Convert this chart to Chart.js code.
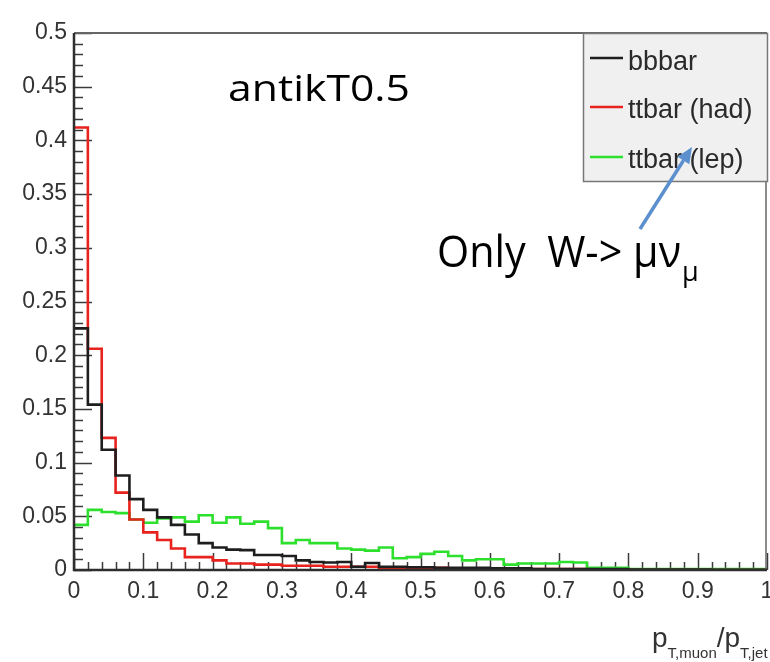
<!DOCTYPE html>
<html>
<head>
<meta charset="utf-8">
<script src="https://cdn.jsdelivr.net/npm/chart.js@4.4.1/dist/chart.umd.min.js"></script>
<style>
  html, body { margin: 0; padding: 0; background: #ffffff; }
  canvas { display: block; }
</style>
</head>
<body>
<canvas id="c" width="770" height="662"></canvas>
<script>
// ---- data ----
const binLow = [
  0.00, 0.02, 0.04, 0.06, 0.08, 0.10, 0.12, 0.14, 0.16, 0.18,
  0.20, 0.22, 0.24, 0.26, 0.28, 0.30, 0.32, 0.34, 0.36, 0.38,
  0.40, 0.42, 0.44, 0.46, 0.48, 0.50, 0.52, 0.54, 0.56, 0.58,
  0.60, 0.62, 0.64, 0.66, 0.68, 0.70, 0.72, 0.74, 0.76, 0.78,
  0.80, 0.82, 0.84, 0.86, 0.88, 0.90, 0.92, 0.94, 0.96, 0.98
];
const xUpperEdge = 1.0;

const bbbar = [
  0.225, 0.154, 0.112, 0.088, 0.066, 0.056, 0.049, 0.042, 0.033, 0.025,
  0.021, 0.019, 0.0185, 0.014, 0.014, 0.013, 0.009, 0.0075, 0.007, 0.0075,
  0.003, 0.0065, 0.003, 0.003, 0.0025, 0.0025, 0.002, 0.002, 0.002, 0.002,
  0.0015, 0.0015, 0.0015, 0.001, 0.001, 0.001, 0.001, 0.001, 0.0008, 0.0008,
  0.0005, 0.0005, 0.0005, 0.0005, 0.0004, 0.0004, 0.0003, 0.0003, 0.0003, 0.0003
];
const ttbarHad = [
  0.412, 0.206, 0.123, 0.072, 0.047, 0.035, 0.028, 0.020, 0.012, 0.012,
  0.009, 0.006, 0.006, 0.005, 0.005, 0.004, 0.004, 0.004, 0.003, 0.003,
  0.003, 0.003, 0.002, 0.002, 0.002, 0.002, 0.002, 0.0015, 0.0015, 0.0015,
  0.001, 0.001, 0.001, 0.001, 0.001, 0.001, 0.001, 0, 0, 0,
  0, 0, 0, 0, 0, 0, 0, 0, 0, 0
];
const ttbarLep = [
  0.042, 0.056, 0.054, 0.053, 0.047, 0.044, 0.048, 0.049, 0.045, 0.051,
  0.044, 0.049, 0.043, 0.045, 0.039, 0.025, 0.028, 0.025, 0.025, 0.020,
  0.019, 0.018, 0.021, 0.011, 0.012, 0.015, 0.017, 0.013, 0.009, 0.010,
  0.010, 0.005, 0.006, 0.006, 0.006, 0.0075, 0.007, 0.002, 0.002, 0.002,
  0.001, 0.001, 0.001, 0.001, 0.001, 0.001, 0.001, 0.001, 0.001, 0.001
];
const seriesLabels = ['bbbar', 'ttbar (had)', 'ttbar (lep)'];
const seriesColors = ['#1e1e1e', '#e8221c', '#2ee02e'];

const xTickValues = [0, 0.1, 0.2, 0.3, 0.4, 0.5, 0.6, 0.7, 0.8, 0.9, 1];
const xTickLabels = ['0', '0.1', '0.2', '0.3', '0.4', '0.5', '0.6', '0.7', '0.8', '0.9', '1'];
const yTickValues = [0, 0.05, 0.1, 0.15, 0.2, 0.25, 0.3, 0.35, 0.4, 0.45, 0.5];
const yTickLabels = ['0', '0.05', '0.1', '0.15', '0.2', '0.25', '0.3', '0.35', '0.4', '0.45', '0.5'];
const xMinorStep = 0.02;
const yMinorStep = 0.01;

// ---- helpers ----
function histPoints(values) {
  const pts = binLow.map((x, i) => ({ x: x, y: values[i] }));
  pts.push({ x: xUpperEdge, y: values[values.length - 1] });
  return pts;
}

const datasets = [bbbar, ttbarHad, ttbarLep].map((vals, i) => ({
  label: seriesLabels[i],
  data: histPoints(vals),
  borderColor: seriesColors[i],
  backgroundColor: seriesColors[i],
  borderWidth: 2.6,
  stepped: 'before',
  pointRadius: 0,
  fill: false
}));

function fitText(ctx, text, x, y, width) {
  const w = ctx.measureText(text).width;
  ctx.save();
  ctx.translate(x, y);
  ctx.scale(width / w, 1);
  ctx.fillText(text, 0, 0);
  ctx.restore();
}

const rootDecor = {
  id: 'rootDecor',
  beforeDatasetsDraw(chart) {
    const ctx = chart.ctx;
    const xs = chart.scales.x, ys = chart.scales.y;
    const a = chart.chartArea;
    ctx.save();
    ctx.strokeStyle = '#3a3a3a';
    ctx.lineWidth = 1.5;
    for (let k = 0; k <= 50; k++) {
      const v = k * yMinorStep;
      const py = Math.round(ys.getPixelForValue(v)) + 0.5;
      const len = (k % 5 === 0) ? 18 : 9;
      ctx.beginPath();
      ctx.moveTo(a.left, py);
      ctx.lineTo(a.left + len, py);
      ctx.stroke();
    }
    for (let k = 0; k <= 50; k++) {
      const v = k * xMinorStep;
      const px = Math.round(xs.getPixelForValue(v)) + 0.5;
      const len = (k % 5 === 0) ? 17 : 8;
      ctx.beginPath();
      ctx.moveTo(px, a.bottom);
      ctx.lineTo(px, a.bottom - len);
      ctx.stroke();
    }
    ctx.restore();
  },
  afterDatasetsDraw(chart) {
    const ctx = chart.ctx;
    const a = chart.chartArea;
    ctx.save();
    // frame
    ctx.strokeStyle = '#666666';
    ctx.lineWidth = 2;
    ctx.beginPath();
    ctx.moveTo(a.left, a.top);
    ctx.lineTo(a.right, a.top);
    ctx.stroke();
    ctx.lineWidth = 1.5;
    ctx.beginPath();
    ctx.moveTo(a.right - 1, a.top);
    ctx.lineTo(a.right - 1, a.bottom);
    ctx.stroke();
    ctx.strokeStyle = '#2e2e2e';
    ctx.lineWidth = 2.5;
    ctx.beginPath();
    ctx.moveTo(a.left, a.top);
    ctx.lineTo(a.left, a.bottom);
    ctx.lineTo(a.right, a.bottom);
    ctx.stroke();

    // legend box
    const lx = 583, ly = a.top, lw = a.right + 1 - 583, lh = 149;
    ctx.fillStyle = '#f0f0f0';
    ctx.fillRect(lx, ly, lw, lh);
    ctx.strokeStyle = '#777777';
    ctx.lineWidth = 1.5;
    ctx.strokeRect(lx + 0.5, ly + 0.5, lw - 1, lh - 1);
    const rowsY = [58, 107, 157];
    const baseY = [70, 118, 168];
    ctx.font = '27px "Liberation Sans", Arial, sans-serif';
    ctx.textBaseline = 'alphabetic';
    ctx.textAlign = 'left';
    chart.data.datasets.forEach((ds, i) => {
      ctx.strokeStyle = ds.borderColor;
      ctx.lineWidth = 2.5;
      ctx.beginPath();
      ctx.moveTo(590, rowsY[i]);
      ctx.lineTo(623, rowsY[i]);
      ctx.stroke();
      ctx.fillStyle = '#2a2a2a';
      ctx.fillText(ds.label, 628, baseY[i]);
    });

    // annotations
    ctx.fillStyle = '#000000';
    ctx.font = '36px "Open Sans", sans-serif';
    fitText(ctx, 'antikT0.5', 228, 101, 182);
    ctx.font = '44px "Open Sans", sans-serif';
    fitText(ctx, 'Only  W-> \u03bc\u03bd', 437, 267, 244);
    ctx.font = '27px "Open Sans", sans-serif';
    ctx.fillText('\u03bc', 682, 281);

    // arrow
    ctx.strokeStyle = '#5b8fcd';
    ctx.fillStyle = '#5b8fcd';
    ctx.lineWidth = 3.5;
    const x0 = 640, y0 = 229, x1 = 692, y1 = 147;
    const ang = Math.atan2(y1 - y0, x1 - x0);
    const hl = 16, hw = 7;
    const bx = x1 - hl * Math.cos(ang), by = y1 - hl * Math.sin(ang);
    ctx.beginPath();
    ctx.moveTo(x0, y0);
    ctx.lineTo(bx, by);
    ctx.stroke();
    ctx.beginPath();
    ctx.moveTo(x1, y1);
    ctx.lineTo(bx + hw * Math.sin(ang), by - hw * Math.cos(ang));
    ctx.lineTo(bx - hw * Math.sin(ang), by + hw * Math.cos(ang));
    ctx.closePath();
    ctx.fill();

    // axis title p_{T,muon}/p_{T,jet}
    ctx.fillStyle = '#333333';
    let tx = 652;
    const big = '28px "Liberation Sans", Arial, sans-serif';
    const small = '15px "Liberation Sans", Arial, sans-serif';
    const parts = [['p', big, 647], ['T,muon', small, 658], ['/', big, 647], ['p', big, 647], ['T,jet', small, 658]];
    parts.forEach(p => {
      ctx.font = p[1];
      ctx.fillText(p[0], tx, p[2]);
      tx += ctx.measureText(p[0]).width;
    });
    ctx.restore();
  }
};

const tickFont = { family: '"Liberation Sans", Arial, sans-serif', size: 23 };

new Chart(document.getElementById('c'), {
  type: 'line',
  data: { datasets: datasets },
  options: {
    responsive: false,
    animation: false,
    devicePixelRatio: 1,
    layout: { padding: { top: 33, right: 3, left: 0, bottom: 0 } },
    plugins: { legend: { display: false }, tooltip: { enabled: false } },
    scales: {
      x: {
        type: 'linear', min: 0, max: 1,
        grid: { display: false, drawTicks: false },
        border: { display: false },
        ticks: {
          font: tickFont, color: '#333333', padding: 8, maxRotation: 0,
          callback: (v) => { const i = xTickValues.findIndex(t => Math.abs(t - v) < 1e-9); return i >= 0 ? xTickLabels[i] : ''; }
        },
        afterBuildTicks: (s) => { s.ticks = xTickValues.map(v => ({ value: v })); },
        afterFit: (s) => { s.height = 92; s.paddingLeft = 0; s.paddingRight = 0; }
      },
      y: {
        type: 'linear', min: 0, max: 0.5,
        grid: { display: false, drawTicks: false },
        border: { display: false },
        ticks: {
          font: tickFont, color: '#333333', padding: 7,
          callback: (v) => { const i = yTickValues.findIndex(t => Math.abs(t - v) < 1e-9); return i >= 0 ? yTickLabels[i] : ''; }
        },
        afterBuildTicks: (s) => { s.ticks = yTickValues.map(v => ({ value: v })); },
        afterFit: (s) => { s.width = 74; s.paddingTop = 0; s.paddingBottom = 0; }
      }
    }
  },
  plugins: [rootDecor]
});
</script>
</body>
</html>
